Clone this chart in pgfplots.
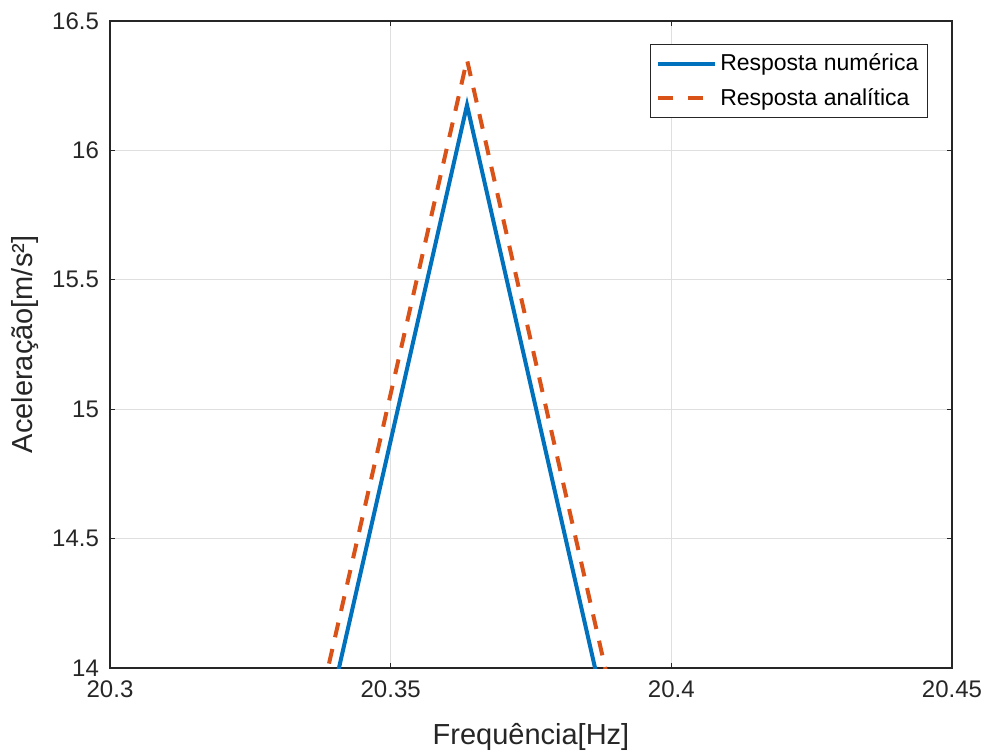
\documentclass[border=0pt]{standalone}
\usepackage{pgfplots}
\pgfplotsset{compat=1.18}
\usepackage{fontspec}
\setmainfont{Liberation Sans}
\definecolor{mblue}{HTML}{0072BD}
\definecolor{morange}{HTML}{D95319}
\definecolor{axgray}{HTML}{262626}
\definecolor{gridgray}{HTML}{DFDFDF}
\pgfplotsset{
  twodash legend/.style={legend image code/.code={%
    \draw[##1, dash pattern=on 7.5pt off 7.5pt] (0pt,0pt) -- (22.5pt,0pt);}},
}
\begin{document}
\begin{tikzpicture}
\begin{axis}[
  scale only axis,
  width=421pt, height=323.5pt,
  xmin=20.3, xmax=20.45, ymin=14, ymax=16.5,
  xtick={20.3,20.35,20.4,20.45},
  xticklabels={20.3,20.35,20.4,20.45},
  ytick={14,14.5,15,15.5,16,16.5},
  yticklabels={14,14.5,15,15.5,16,16.5},
  /pgf/number format/assume math mode=true,
  ticklabel style={font=\fontsize{12}{14}\selectfont, text=axgray},
  xticklabel style={yshift=-3pt},
  yticklabel style={xshift=-2pt},
  major tick length=2.5pt,
  tick style={axgray, line width=0.6pt},
  axis line style={axgray, line width=0.75pt},
  grid=major,
  major grid style={gridgray, line width=0.6pt},
  xlabel={Frequência[Hz]},
  ylabel={Aceleração[m/s²]},
  label style={font=\fontsize{14.5}{17}\selectfont, text=axgray},
  xlabel style={at={(axis description cs:0.5,-0.1066)}, anchor=center},
  ylabel style={at={(axis description cs:-0.101,0.5)}, anchor=center},
  clip=true,
  legend style={at={(axis description cs:0.9715,0.9645)}, anchor=north east,
    draw=axgray, line width=0.6pt, font=\fontsize{11.5}{14}\selectfont,
    inner xsep=3pt, inner ysep=2.5pt, row sep=3.5pt,
    nodes={inner xsep=1.5pt}},
  legend cell align=left,
  legend image code/.code={\draw[#1] (0pt,0pt) -- (28.5pt,0pt);},
]
\coordinate (o) at (rel axis cs:0,0);
% numerical response
\addplot[mblue, line width=2pt] coordinates {
  (20.3303,13.0) (20.3636,16.175) (20.3969,13.0)
};
\addlegendentry{Resposta numérica}
% analytical response
\addplot[morange, line width=2pt, dash pattern=on 7.5pt off 6pt, twodash legend]
  coordinates {
  (20.3283,13.0) (20.3636,16.35) (20.3987,13.0)
};
\addlegendentry{Resposta analítica}
\end{axis}
\pgfresetboundingbox
\path (o) ++(-55pt,-42pt) rectangle ++(494.5pt,376pt);
\end{tikzpicture}
\end{document}
